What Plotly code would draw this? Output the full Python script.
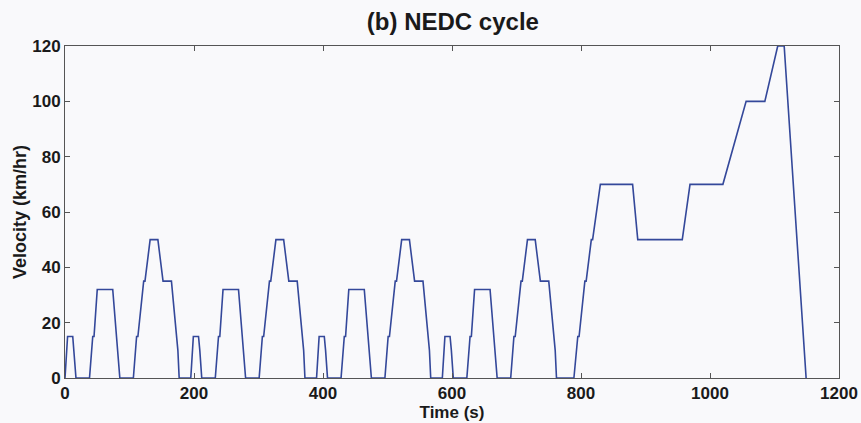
import plotly.graph_objects as go

# NEDC breakpoints (time in s, velocity in km/hr)
time_s = [
    0, 4, 12, 14, 17, 38, 43, 45, 50, 74, 82, 85, 106, 111, 113, 122, 124, 132, 144, 152, 165, 175, 177, 184,
    195, 199, 207, 209, 212, 233, 238, 240, 245, 269, 277, 280, 301, 306, 308, 317, 319, 327, 339, 347, 360, 370, 372, 379,
    390, 394, 402, 404, 407, 428, 433, 435, 440, 464, 472, 475, 496, 501, 503, 512, 514, 522, 534, 542, 555, 565, 567, 574,
    585, 589, 597, 599, 602, 623, 628, 630, 635, 659, 667, 670, 691, 696, 698, 707, 709, 717, 729, 737, 750, 760, 762, 769,
    789, 795, 797, 806, 808, 816, 818, 830, 880, 888, 957, 969, 1020, 1056, 1085, 1105, 1115, 1149,
]
velocity = [
    0, 15, 15, 10, 0, 0, 15, 15, 32, 32, 10, 0, 0, 15, 15, 35, 35, 50, 50, 35, 35, 10, 0, 0,
    0, 15, 15, 10, 0, 0, 15, 15, 32, 32, 10, 0, 0, 15, 15, 35, 35, 50, 50, 35, 35, 10, 0, 0,
    0, 15, 15, 10, 0, 0, 15, 15, 32, 32, 10, 0, 0, 15, 15, 35, 35, 50, 50, 35, 35, 10, 0, 0,
    0, 15, 15, 10, 0, 0, 15, 15, 32, 32, 10, 0, 0, 15, 15, 35, 35, 50, 50, 35, 35, 10, 0, 0,
    0, 15, 15, 35, 35, 50, 50, 70, 70, 50, 50, 70, 70, 100, 100, 120, 120, 0,
]

x_ticks = [0, 200, 400, 600, 800, 1000, 1200]
y_ticks = [0, 20, 40, 60, 80, 100, 120]

FONT = "Liberation Sans, Arial, sans-serif"
BG = "#f9f9fb"

fig = go.Figure()
fig.add_trace(go.Scatter(
    x=time_s, y=velocity, mode="lines",
    line=dict(color="#34489a", width=1.6),
    showlegend=False, hoverinfo="x+y",
))

axis_common = dict(
    showgrid=False, zeroline=False, showline=True, linecolor="#555555", linewidth=1,
    mirror="allticks", ticks="inside", ticklen=5, tickcolor="#555555",
    tickfont=dict(family=FONT, size=17, color="#1a1a1a", weight="bold"),
    automargin=False,
)

fig.update_layout(
    width=861, height=423,
    margin=dict(l=65, r=22, t=46, b=45),
    paper_bgcolor=BG, plot_bgcolor=BG,
    title=dict(text="<b>(b) NEDC cycle</b>", x=0.526, xanchor="center", y=0.948, yanchor="middle",
               font=dict(family=FONT, size=24, color="#1a1a1a")),
    xaxis=dict(range=[0, 1200], tickvals=x_ticks, ticktext=[str(v) for v in x_ticks],
               title=dict(text="<b>Time (s)</b>", standoff=0,
                          font=dict(family=FONT, size=17, color="#1a1a1a")),
               **axis_common),
    yaxis=dict(range=[0, 120], tickvals=y_ticks, ticktext=[str(v) for v in y_ticks],
               title=dict(text="<b>Velocity (km/hr)</b>", standoff=0,
                          font=dict(family=FONT, size=18, color="#1a1a1a")),
               **axis_common),
)

fig.write_html("out.html")
